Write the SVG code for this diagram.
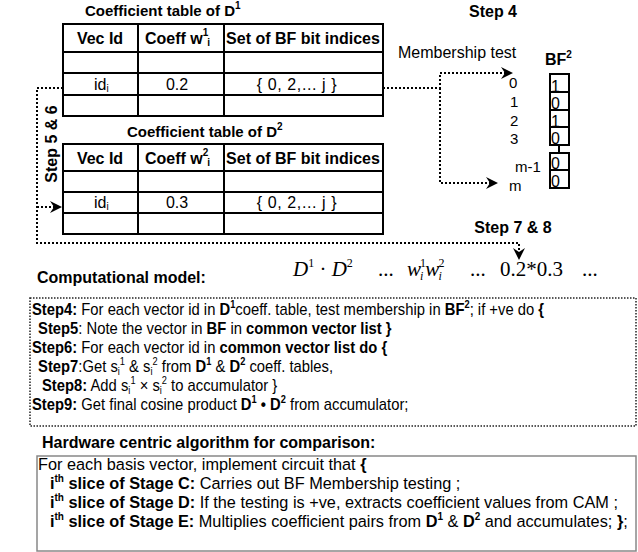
<svg xmlns="http://www.w3.org/2000/svg" width="638" height="552" viewBox="0 0 638 552">
<style>
.t{font-family:"Liberation Sans",Arial,sans-serif;fill:#000}
.b{font-weight:bold}
.h{font-size:16px;font-weight:bold}
.ti{font-size:15px;font-weight:bold}
.c{font-size:16px}
.set{letter-spacing:0.6px}
.tb{fill:none;stroke:#000;stroke-width:2}
.dot{fill:none;stroke:#000;stroke-width:2;stroke-dasharray:2,2}
.m{font-family:"Liberation Serif","Times New Roman",serif;font-size:21px}
.s{font-size:16px}
.hw{font-size:16.3px}
.sp{font-size:10px}
</style>
<defs>
<marker id="ah" viewBox="0 0 12 12" refX="11" refY="6" markerWidth="12" markerHeight="12" markerUnits="userSpaceOnUse" orient="auto">
<path d="M0,0 L12,6 L0,12 L4,6 Z" fill="#000"/>
</marker>
</defs>

<g id="title1"><text class="t ti" x="85" y="16">Coefficient table of D<tspan class="sp" dy="-7">1</tspan></text></g>
<g id="table1">
<rect class="tb" x="63" y="24" width="320" height="92"/>
<line class="tb" x1="63" y1="52" x2="383" y2="52"/>
<line class="tb" x1="63" y1="73" x2="383" y2="73"/>
<line class="tb" x1="63" y1="95" x2="383" y2="95"/>
<line class="tb" x1="138" y1="24" x2="138" y2="116"/>
<line class="tb" x1="224" y1="24" x2="224" y2="116"/>
<text class="t c b" x="100" y="44" text-anchor="middle">Vec Id</text>
<text class="t c b" x="145" y="44">Coeff w<tspan class="sp" dy="-8">1</tspan><tspan class="sp" dx="-1" dy="10">i</tspan></text>
<text class="t c b" x="303" y="44" text-anchor="middle">Set of BF bit indices</text>
<text class="t c" x="94" y="90">id<tspan class="sp" dy="2">i</tspan></text>
<text class="t c" x="177" y="90" text-anchor="middle">0.2</text>
<text class="t c set" x="297" y="90" text-anchor="middle">{ 0, 2,... j }</text>
</g>

<g id="title2"><text class="t ti" x="127" y="137">Coefficient table of D<tspan class="sp" dy="-7">2</tspan></text></g>
<g id="table2">
<rect class="tb" x="63" y="144" width="320" height="90"/>
<line class="tb" x1="63" y1="171" x2="383" y2="171"/>
<line class="tb" x1="63" y1="192" x2="383" y2="192"/>
<line class="tb" x1="63" y1="213" x2="383" y2="213"/>
<line class="tb" x1="138" y1="144" x2="138" y2="234"/>
<line class="tb" x1="224" y1="144" x2="224" y2="234"/>
<text class="t c b" x="100" y="164" text-anchor="middle">Vec Id</text>
<text class="t c b" x="145" y="164">Coeff w<tspan class="sp" dy="-8">2</tspan><tspan class="sp" dx="-1" dy="10">i</tspan></text>
<text class="t c b" x="303" y="164" text-anchor="middle">Set of BF bit indices</text>
<text class="t c" x="94" y="208">id<tspan class="sp" dy="2">i</tspan></text>
<text class="t c" x="177" y="208" text-anchor="middle">0.3</text>
<text class="t c set" x="297" y="208" text-anchor="middle">{ 0, 2,... j }</text>
</g>

<g id="step4label">
<text class="t h" x="493" y="17" text-anchor="middle">Step 4</text>
<text class="t" font-size="16" x="398" y="58">Membership test</text>
</g>

<g id="bf">
<text class="t b" font-size="16" x="545" y="65">BF<tspan class="sp" dy="-7">2</tspan></text>
<rect class="tb" x="550" y="74" width="19" height="18"/>
<rect class="tb" x="550" y="92" width="19" height="18"/>
<rect class="tb" x="550" y="110" width="19" height="17"/>
<rect class="tb" x="550" y="127" width="19" height="18"/>
<line class="tb" x1="559" y1="145" x2="559" y2="153"/>
<rect class="tb" x="550" y="153" width="19" height="17"/>
<rect class="tb" x="550" y="170" width="19" height="18"/>
<g class="t" font-size="16">
<text x="551" y="92">1</text>
<text x="551" y="109">0</text>
<text x="551" y="127">1</text>
<text x="551" y="144">0</text>
<text x="551" y="169">0</text>
<text x="551" y="187">0</text>
</g>
<g class="t" font-size="15">
<text x="509" y="88">0</text>
<text x="510" y="107">1</text>
<text x="510" y="126">2</text>
<text x="510" y="144">3</text>
<text x="515" y="172">m-1</text>
<text x="509" y="191">m</text>
</g>
</g>

<g id="steps56"><text class="t h" transform="translate(57,144) rotate(-90)" text-anchor="middle">Step 5 &amp; 6</text></g>
<g id="step78"><text class="t h" x="513" y="233" text-anchor="middle">Step 7 &amp; 8</text></g>

<g id="connectors">
<polyline class="dot" points="63,88 37,88 37,243 519,243 519,259" marker-end="url(#ah)"/>
<line class="dot" x1="37" y1="207" x2="61" y2="207" marker-end="url(#ah)"/>
<polyline class="dot" points="383,88 440,88 440,73 512,73" marker-end="url(#ah)"/>
<polyline class="dot" points="440,88 440,183 497,183" marker-end="url(#ah)"/>
</g>

<g id="math">
<text class="m" x="293" y="276"><tspan font-style="italic">D</tspan><tspan font-size="12" dy="-9">1</tspan><tspan dy="9"> · </tspan><tspan font-style="italic">D</tspan><tspan font-size="12" dy="-9">2</tspan></text>
<text class="m" x="378" y="276">...</text>
<text class="m" x="407" y="276"><tspan font-style="italic">w</tspan><tspan font-size="12" dx="-1" dy="-9">1</tspan><tspan font-size="12" font-style="italic" dx="-6" dy="13">i</tspan><tspan font-style="italic" dx="2" dy="-4">w</tspan><tspan font-size="12" dx="-1" dy="-9">2</tspan><tspan font-size="12" font-style="italic" dx="-6" dy="13">i</tspan></text>
<text class="m" x="470" y="276">...</text>
<text class="m" x="500" y="276">0.2*0.3</text>
<text class="m" x="582" y="276">...</text>
</g>

<g id="compmodel">
<text class="t h" x="37" y="283">Computational model:</text>
<rect x="30" y="298" width="606" height="128" fill="none" stroke="#222" stroke-width="1.5" stroke-dasharray="1.5,1.5"/>
<g class="t s" transform="scale(0.925,1)">
<text x="34.6" y="315"><tspan class="b">Step4:</tspan> For each vector id in <tspan class="b">D</tspan><tspan class="b sp" dy="-7">1</tspan><tspan dy="7">coeff. table, test membership in </tspan><tspan class="b">BF</tspan><tspan class="b sp" dy="-7">2</tspan><tspan dy="7">; if +ve do </tspan><tspan class="b">{</tspan></text>
<text x="41.1" y="334"><tspan class="b">Step5</tspan>: Note the vector in <tspan class="b">BF</tspan> in <tspan class="b">common vector list }</tspan></text>
<text x="34.6" y="353"><tspan class="b">Step6:</tspan> For each vector id in <tspan class="b">common vector list do {</tspan></text>
<text x="41.1" y="372"><tspan class="b">Step7</tspan>:Get s<tspan class="sp" dy="3">i</tspan><tspan class="sp" dy="-10">1</tspan><tspan dy="7"> &amp; s</tspan><tspan class="sp" dy="3">i</tspan><tspan class="sp" dy="-10">2</tspan><tspan dy="7"> from </tspan><tspan class="b">D</tspan><tspan class="b sp" dy="-7">1</tspan><tspan dy="7"> &amp; </tspan><tspan class="b">D</tspan><tspan class="b sp" dy="-7">2</tspan><tspan dy="7"> coeff. tables,</tspan></text>
<text x="45.4" y="391"><tspan class="b">Step8:</tspan> Add s<tspan class="sp" dy="3">i</tspan><tspan class="sp" dy="-10">1</tspan><tspan dy="7"> × s</tspan><tspan class="sp" dy="3">i</tspan><tspan class="sp" dy="-10">2</tspan><tspan dy="7"> to accumulator  }</tspan></text>
<text x="34.6" y="410"><tspan class="b">Step9:</tspan> Get final cosine product <tspan class="b">D</tspan><tspan class="b sp" dy="-7">1</tspan><tspan class="b" dy="7"> • D</tspan><tspan class="b sp" dy="-7">2</tspan><tspan dy="7"> from accumulator;</tspan></text>
</g>
</g>

<g id="hardware">
<text class="t h" x="42" y="448">Hardware centric algorithm for comparison:</text>
<rect x="37" y="456" width="599" height="95" fill="none" stroke="#888" stroke-width="1.5"/>
<g class="t hw">
<text x="38" y="470">For each basis vector, implement circuit that <tspan class="b">{</tspan></text>
<text x="50" y="489"><tspan class="b">i</tspan><tspan class="b sp" dy="-7">th</tspan><tspan class="b" dy="7"> slice of Stage C:</tspan> Carries out BF Membership testing ;</text>
<text x="50" y="508"><tspan class="b">i</tspan><tspan class="b sp" dy="-7">th</tspan><tspan class="b" dy="7"> slice of Stage D:</tspan> If the testing is +ve, extracts coefficient values from CAM ;</text>
<text x="50" y="527"><tspan class="b">i</tspan><tspan class="b sp" dy="-7">th</tspan><tspan class="b" dy="7"> slice of Stage E:</tspan> Multiplies coefficient pairs from <tspan class="b">D</tspan><tspan class="b sp" dy="-7">1</tspan><tspan dy="7"> &amp; </tspan><tspan class="b">D</tspan><tspan class="b sp" dy="-7">2</tspan><tspan dy="7"> and accumulates; </tspan><tspan class="b">}</tspan>;</text>
</g>
</g>
</svg>
